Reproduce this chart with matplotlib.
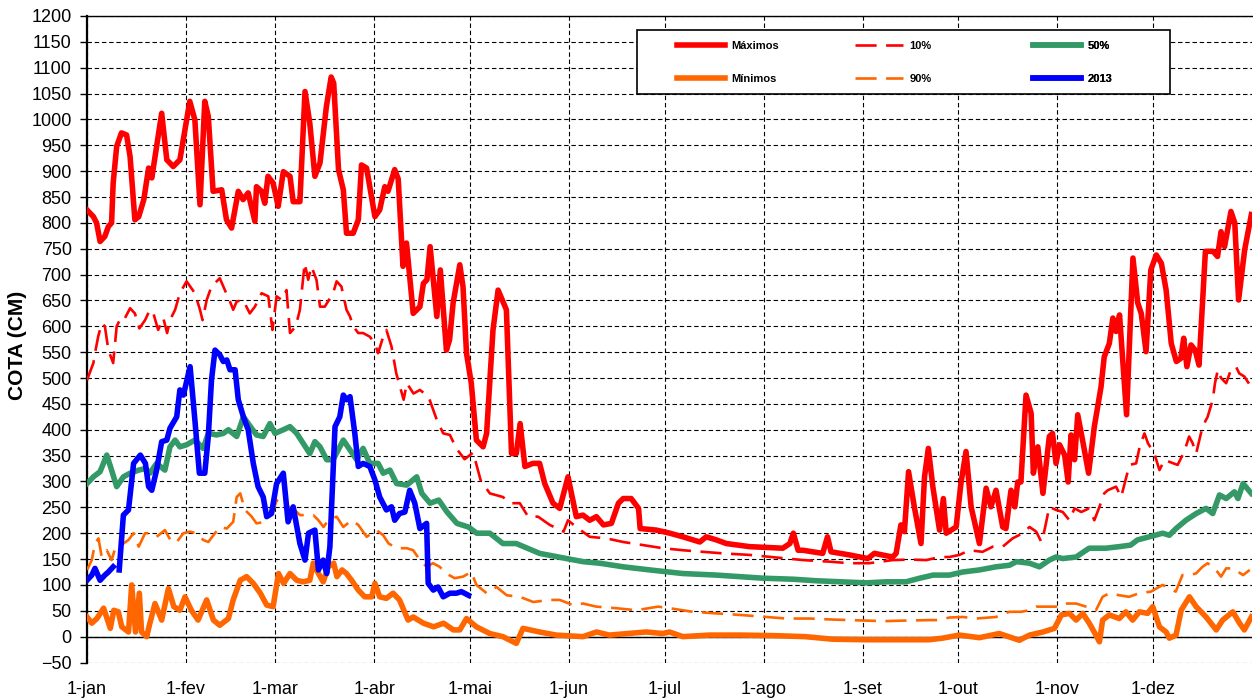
import numpy as np
import matplotlib
matplotlib.use("Agg")
import matplotlib.pyplot as plt
from matplotlib.patches import Rectangle

plt.rcParams['font.family'] = ['Liberation Sans', 'DejaVu Sans']

# ---- data (x = day of year, 0 = 1-jan) ----
max_days = [0, 2, 3, 4.1, 5.6, 6.7, 7.7, 8.2, 9.3, 10.8, 12.4, 13.5, 15, 16.2, 17.8, 19.3, 20.3, 23.4, 25, 27,
            29.1, 32.2, 33.8, 35.4, 36.9, 38, 39.5, 42.2, 43.7, 45.3, 47.4, 48.9, 50.5, 52.6, 53.1, 54.7, 55.7,
            56.7, 58.3, 59.9, 61.5, 63.6, 64.6, 66.7, 68.3, 69.8, 71.4, 73, 75, 76.5, 77.3, 78.8, 80.3, 81.3,
            83.4, 85, 86, 87.6, 90.2, 91.7, 93.3, 94.3, 96.4, 97.5, 99, 100.1, 102.2, 104.3, 105.4, 106.5, 107.5,
            109.6, 110.7, 112.6, 113.6, 114.7, 116.8, 117.8, 118.9, 120.4, 122, 124.1, 125.2, 127.2, 128.8, 131.4,
            133, 134.5, 135.7, 137.2, 139.7, 141.8, 143.4, 146, 148.1, 150.7, 153.3, 155.4, 157.5, 159.6, 161.8,
            164.3, 166.5, 168, 170.5, 172.8, 173.3, 178.4, 182.6, 186.7, 192, 194, 197.2, 200.3, 207.6, 218,
            220.2, 221.3, 222.8, 224.3, 230.5, 232, 233.1, 238.9, 244.6, 246.7, 252.4, 253.5, 255, 256.1, 257.4,
            259.2, 261.3, 262.4, 263.6, 265, 267.1, 268.3, 269.2, 272.3, 273.8, 275.4, 277, 279.6, 281.7, 283.2,
            284.8, 286.9, 287.9, 289.5, 290.7, 291.6, 292.6, 294.2, 295.8, 296.5, 297.9, 299.5, 301.5, 302.5,
            303.6, 304.7, 306.3, 307.4, 308.3, 309.4, 310.4, 312, 313.8, 315.6, 317.7, 318.7, 320.3, 321.4, 322.4,
            323.5, 325.7, 327.7, 329.2, 330.3, 331.8, 333.3, 335, 336.6, 338.1, 339.7, 341.3, 342.7, 343.6, 344.6,
            345.9, 347.2, 348.4, 350.4, 352.8, 354.2, 355.3, 356.4, 358.4, 359.6, 360.8, 362.7, 364.8]
max_vals = [825, 812, 800, 764, 774, 793, 800, 877, 948, 974, 970, 928, 806, 812, 845, 906, 887, 1012, 922, 909,
            922, 1035, 999, 835, 1035, 1006, 861, 864, 806, 790, 861, 845, 858, 803, 870, 861, 838,
            890, 877, 832, 899, 890, 841, 841, 1054, 993, 890, 916, 1025, 1082, 1070, 903, 864, 780,
            780, 806, 912, 906, 812, 825, 870, 861, 903, 885, 716, 761, 625, 638, 683, 690, 754,
            619, 709, 554, 574, 645, 719, 677, 548, 490, 380, 367, 393, 593, 670, 632,
            354, 354, 412, 329, 335, 335, 296, 258, 248, 309, 232, 235, 225, 232, 216,
            219, 258, 267, 267, 248, 209, 206, 200, 193, 183, 193, 187, 180, 174, 171,
            180, 200, 167, 167, 161, 193, 164, 158, 151, 161, 154, 161, 216, 203, 319,
            251, 180, 309, 364, 290, 206, 267, 200, 212, 296, 358, 251, 180, 287, 251,
            283, 212, 209, 283, 251, 299, 299, 467, 432, 316, 367, 277, 387, 393,
            335, 371, 351, 299, 390, 342, 429, 377, 316, 406, 483, 541, 567, 616, 590,
            622, 429, 732, 645, 625, 551, 709, 738, 722, 670, 567, 532, 538, 577, 522,
            564, 554, 525, 745, 745, 735, 783, 754, 822, 800, 651, 748, 816]

p10_days = [0, 2, 2.5, 3.5, 4.6, 5.6, 6.7, 8.2, 9.3, 10.8, 11.9, 13.5, 15, 16.4, 18.2, 19.7, 20.8, 22.3, 23.9,
            25.1, 26, 27.6, 29.1, 31.2, 33.8, 35.4, 36.2, 37.5, 39, 41.6, 43.2, 44.8, 45.8, 46.9, 48.9, 51, 52.6,
            54.7, 56.8, 58.1, 59.4, 61, 62.5, 63.6, 65.4, 66.7, 68.2, 69.3, 70.3, 71.9, 73, 74.5, 77.1, 78.2,
            79.7, 81.3, 82.4, 83.4, 85, 86.5, 88.6, 90.2, 91.2, 92.8, 93.8, 95.4, 96.9, 99.2, 100.2, 102.3, 104.3,
            107, 109.6, 111.6, 113.7, 115.7, 118.3, 121, 123.3, 126.2, 130.3, 132.6, 135.6, 138.2, 141.3, 145,
            149.3, 150.7, 153.3, 157.5, 162.7, 168, 174.2, 180.4, 186.8, 193, 199.2, 207.6, 215.9, 224.4, 232.6,
            238.9, 245.1, 252.4, 257.8, 263, 267.1, 270.2, 273.3, 276.5, 280.6, 283.8, 286.9, 290, 293.2, 295.3,
            297.4, 299, 300, 301.5, 303.6, 305.7, 307.8, 309.4, 311.5, 314, 315.6, 317.2, 318.7, 319.8, 322.4,
            324, 326.6, 328.7, 329.8, 331.3, 332.4, 334.4, 336, 337.6, 339.1, 341.7, 343.8, 345.3, 346.4, 347.5,
            349.5, 351.1, 352.7, 353.4, 354.3, 355.3, 356.9, 358.4, 360, 361, 362.6, 364.7]
p10_vals = [496, 529, 548, 580, 606, 600, 554, 529, 600, 619, 616, 635, 625, 596, 612, 632, 625, 593, 616,
            587, 612, 632, 664, 687, 664, 632, 612, 651, 677, 693, 670, 648, 632, 648, 651, 625, 638,
            664, 658, 593, 658, 651, 670, 587, 600, 632, 722, 690, 716, 690, 638, 638, 664, 687,
            677, 632, 619, 600, 587, 587, 580, 567, 548, 580, 593, 561, 509, 458, 490, 470, 477,
            464, 419, 393, 390, 364, 343, 356, 303, 277, 270, 258, 258, 232, 232, 216,
            203, 225, 212, 193, 190, 183, 177, 171, 167, 164, 161, 158, 153, 148, 145,
            142, 142, 148, 149, 148, 154, 154, 158, 167, 164, 174, 174, 190, 200, 212,
            203, 183, 206, 251, 245, 241, 225, 248, 241, 248, 225, 251, 277, 283, 290,
            270, 332, 335, 367, 393, 374, 354, 322, 342, 338, 332, 358, 387, 374, 354,
            406, 425, 458, 490, 516, 500, 490, 516, 522, 509, 503, 483]

p50_days = [0, 2, 4.1, 6.2, 7.7, 9.3, 11.4, 13.5, 16.2, 18.3, 19.7, 21.8, 24.4, 26, 27.6, 29.1, 31.2, 33.8,
            36.4, 38, 40.6, 42.7, 44.3, 46.9, 49, 51.2, 53.1, 55.2, 57.3, 58.9, 61.5, 63.6, 65.7, 67.7, 69.8,
            71.4, 73, 75.1, 77.1, 80.3, 82.4, 84.5, 86.5, 88.6, 91.2, 92.8, 94.9, 97, 100.2, 103.3, 104.9,
            107.5, 110.2, 112.8, 115.9, 119.5, 122.1, 126.2, 130.3, 134.5, 141.8, 150.2, 155.4, 160.6, 168,
            176.3, 186.7, 197.2, 211.8, 221.3, 228.6, 244.1, 250.4, 256.6, 260.9, 265.1, 270.2, 274.4, 279.6,
            284.8, 289, 291.2, 295.3, 298.4, 301.5, 303.6, 305.7, 309.9, 313, 314, 319.2, 323.4, 327, 329.1,
            332.8, 337, 339.1, 341.2, 344.3, 347.5, 350.6, 352.7, 354.8, 356.9, 359.5, 360.6, 362.2, 364.8]
p50_vals = [296, 309, 319, 351, 322, 290, 309, 316, 322, 325, 316, 335, 322, 367, 380, 367, 371, 380,
            364, 393, 390, 393, 400, 387, 425, 406, 390, 387, 412, 393, 400, 406, 393, 374, 354,
            377, 367, 342, 342, 380, 361, 342, 364, 335, 335, 316, 322, 296, 293, 309, 277,
            258, 264, 241, 219, 212, 200, 200, 180, 180, 161, 151, 145, 142, 135,
            129, 122, 119, 113, 111, 108, 104, 106, 106, 113, 119, 119, 125, 129,
            135, 138, 145, 142, 135, 148, 154, 151, 154, 167, 171, 171, 174, 177, 187,
            193, 200, 196, 209, 225, 238, 248, 238, 274, 267, 280, 267, 296, 277]

p90_days = [0, 1.5, 2.5, 3.6, 4.6, 6.2, 7.7, 9.3, 11.4, 13, 14.6, 16.2, 18.2, 20.2, 21.8, 24.4, 26.5, 28.1,
            30.2, 32.2, 34.3, 36.4, 38, 39.6, 41.6, 43.8, 45.8, 46.9, 48, 49.5, 51.6, 53.1, 55.7, 58.3, 59.4,
            61, 63.2, 65.1, 66.7, 68.8, 70.9, 72.5, 74.1, 75.6, 78.2, 80.3, 82.9, 85, 87.6, 90.7, 92.8, 94.5,
            97.1, 100.2, 102.2, 104.3, 106.4, 108.4, 110.5, 112.6, 115.2, 117.8, 120.4, 122, 125.2, 128.3,
            131.5, 135.6, 139.8, 145, 148.1, 152.3, 155.4, 159.6, 165.8, 172.1, 178.9, 182.5, 189.8, 197.2,
            204.5, 212.9, 219.1, 226.5, 233.7, 239, 244.1, 250, 256, 263.9, 267, 270.2, 274.4, 278.5, 284.8,
            289, 292.6, 295.3, 297.4, 300.5, 303.6, 305.7, 309.9, 313, 316.1, 318.2, 320.3, 323.4, 326.5,
            329.7, 333.3, 337, 341.1, 343.2, 345.3, 347.4, 349.5, 351.1, 353.7, 355.3, 356.9, 359, 362.2, 364.3]
p90_vals = [129, 148, 180, 190, 154, 167, 148, 180, 180, 187, 200, 174, 200, 200, 193, 206, 183, 183,
            200, 203, 200, 187, 183, 196, 212, 209, 222, 270, 277, 245, 232, 219, 222, 241, 264,
            254, 251, 245, 235, 235, 235, 225, 212, 225, 232, 212, 225, 216, 193, 206, 196, 180,
            171, 171, 167, 148, 135, 142, 135, 122, 113, 116, 125, 100, 84, 96,
            80, 77, 67, 71, 71, 61, 64, 58, 55, 51, 58, 55, 48, 45,
            42, 38, 35, 35, 33, 32, 31, 30, 31, 32, 32, 37, 38, 35, 38,
            48, 48, 51, 58, 58, 58, 64, 64, 58, 51, 77, 84, 80, 77,
            84, 87, 100, 87, 119, 119, 122, 135, 142, 129, 116, 132, 132, 119, 129]

min_days = [0, 1.5, 3.1, 5.2, 7.3, 8.4, 9.8, 10.9, 13, 14, 15.2, 16.4, 17.1, 18.7, 19.7, 21.3, 23.4, 25.5,
            27.2, 29.1, 30.7, 32.7, 34.8, 37.5, 39.6, 41.6, 44.3, 45.8, 48, 50, 52.1, 54.3, 56.3, 58.3, 60,
            61.6, 63.6, 65.7, 67.7, 69.8, 70.9, 72.5, 74, 75.6, 77.3, 78.3, 79.9, 81.3, 82.9, 85, 87, 89.2,
            90.2, 91.7, 93.8, 95.9, 97.9, 100.6, 102.2, 105.4, 108.6, 111.7, 114.8, 116.8, 118.9, 122, 126.2,
            130.3, 134.5, 136.6, 141.8, 147, 155.4, 159.6, 163.7, 175.2, 180.4, 182.5, 186.7, 195, 205, 215,
            225, 233.7, 244.1, 263.9, 268, 273.3, 279.6, 285.8, 292.1, 295.3, 299.5, 303.1, 305.3, 307.8,
            309.9, 312, 314, 316.1, 317.2, 318.2, 320.3, 323.4, 325.5, 327.6, 329.7, 332.3, 333.9, 336, 338.1,
            339.1, 341.2, 342.8, 345.4, 347.5, 350.6, 353.8, 355.8, 359, 361.1, 362.6, 364.8]
min_vals = [38, 26, 35, 55, 16, 51, 48, 19, 9, 100, 9, 84, 9, 0, 26, 64, 32, 93,
            58, 51, 77, 51, 32, 71, 32, 22, 35, 71, 109, 116, 103, 84, 61, 58, 122,
            103, 122, 109, 106, 109, 142, 122, 106, 135, 142, 116, 129, 122, 109, 90, 77, 77,
            103, 77, 74, 84, 71, 32, 38, 26, 19, 26, 13, 13, 35, 19, 6,
            0, -13, 16, 9, 3, 0, 9, 3, 9, 6, 9, 0, 3, 3, 2,
            0, -5, -6, -6, -3, 3, -2, 6, -7, 3, 9, 16, 42, 45,
            32, 45, 26, 3, -10, 32, 42, 35, 48, 32, 48, 45, 58, 19, 9,
            -3, 3, 51, 77, 58, 38, 13, 32, 48, 26, 13, 38]

y2013_days = [0, 1.5, 2.5, 4.1, 5.6, 6.7, 8.2, 9.1, 10.1, 11.4, 13, 14.6, 16.7, 18.3, 19.3, 20.3, 21.8, 23.4,
              25, 26, 28.1, 29.1, 30.2, 32.3, 33.8, 35.2, 36.9, 38, 39, 40.1, 41.6, 42.7, 43.8, 44.8, 46.4,
              47.4, 49, 50.5, 52.1, 53.6, 55.2, 56.3, 57.8, 59.4, 61.5, 63, 64.6, 66.7, 68.3, 69.4, 71.4,
              72.5, 74, 75.1, 76.1, 77.7, 79.2, 80.3, 81.3, 82.4, 83.9, 85, 86.5, 88.6, 90.2, 91.7, 93.8,
              95.4, 96.4, 97.9, 99.6, 101.1, 102.7, 104.3, 106.4, 106.9, 108.5, 110, 111.6, 113.7, 115.7,
              117.3, 119.5]
y2013_vals = [109, 119, 132, 109, 119, 125, 135, np.nan, 129, 235, 245, 335, 351, 335, 290, 283, 322, 377,
              380, 403, 425, 477, 467, 522, 419, 316, 316, 387, 496, 554, 545, 532, 535, 516, 516,
              458, 425, 400, 335, 290, 270, 232, 238, 296, 316, 222, 251, 180, 148, 200, 206,
              129, 148, 122, 174, 406, 425, 467, 458, 464, 393, 329, 335, 329, 303, 270, 245,
              251, 225, 238, 241, 283, 258, 209, 219, 103, 90, 96, 77, 84, 84,
              87, 80]

month_days = [0, 31, 59, 90, 120, 151, 181, 212, 243, 273, 304, 334]
month_labels = ['1-jan', '1-fev', '1-mar', '1-abr', '1-mai', '1-jun', '1-jul', '1-ago', '1-set', '1-out',
                '1-nov', '1-dez']

RED = '#FF0000'
ORANGE = '#FF6600'
GREEN = '#339966'
BLUE = '#0000FF'

W, H = 1253, 698
fig = plt.figure(figsize=(W / 100, H / 100), dpi=100)
ax = fig.add_axes([87 / W, 1 - 662.5 / H, (1252 - 87) / W, (662.5 - 16) / H])

thick = 4.0
thin = 1.9
dash = (0, (8, 3.6))

l_max, = ax.plot(max_days, max_vals, color=RED, lw=thick, label='Máximos', zorder=3)
l_p10, = ax.plot(p10_days, p10_vals, color=RED, lw=thin, linestyle=dash, label='10%', zorder=3)
l_p50, = ax.plot(p50_days, p50_vals, color=GREEN, lw=thick, label='50%', zorder=3)
l_p90, = ax.plot(p90_days, p90_vals, color=ORANGE, lw=thin, linestyle=dash, label='90%', zorder=3)
l_min, = ax.plot(min_days, min_vals, color=ORANGE, lw=thick, label='Mínimos', zorder=3)
l_13, = ax.plot(y2013_days, y2013_vals, color=BLUE, lw=thick, label='2013', zorder=3)

ax.set_xlim(0, 365)
ax.set_ylim(-50, 1200)
ax.set_yticks(np.arange(-50, 1201, 50))
ax.set_xticks(month_days)
ax.set_xticklabels(month_labels)
ax.grid(True, color='black', linestyle=(0, (4, 2.5)), linewidth=0.8, zorder=1)
ax.set_axisbelow(True)
ax.axhline(0, color='black', lw=1.0, zorder=2)

for s in ['right', 'bottom']:
    ax.spines[s].set_visible(False)
ax.spines['left'].set_linewidth(1.6)
ax.spines['top'].set_linewidth(1.0)
ax.tick_params(axis='y', direction='out', length=5, width=1, pad=6, labelsize=13)
ax.tick_params(axis='x', length=0, pad=13, labelsize=13)

fig.text(18 / W, 1 - 345 / H, 'COTA (CM)', rotation=90, ha='center', va='center',
         fontsize=15, fontweight='bold')

# legend frame
rect = Rectangle((637 / W, 1 - 94 / H), (1170 - 637) / W, (94 - 30) / H, transform=fig.transFigure,
                 facecolor='white', edgecolor='black', lw=1.2, zorder=4.5, clip_on=False)
ax.add_patch(rect)

cols = [([l_max, l_min], 677), ([l_p10, l_p90], 855), ([l_p50, l_13], 1033)]
for handles, xpx in cols:
    leg = ax.legend(handles=handles, loc='center left', bbox_to_anchor=(xpx / W, 1 - 62.5 / H),
                    bbox_transform=fig.transFigure, frameon=False, borderpad=0, borderaxespad=0,
                    handlelength=4.3, handletextpad=0.6, labelspacing=2.05,
                    prop={'size': 8, 'weight': 'bold'})
    leg.set_zorder(5)
    ax.add_artist(leg)

fig.savefig('out.png', dpi=100)
